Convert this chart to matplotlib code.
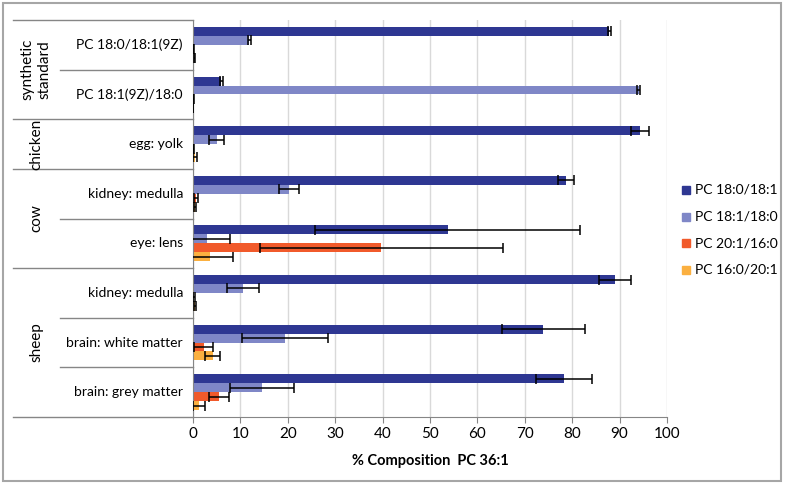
import matplotlib.pyplot as plt
from matplotlib.patches import Rectangle
import numpy as np

plt.rcParams['font.family'] = ['Lato', 'DejaVu Sans']

# samples top to bottom
tissues = ['PC 18:0/18:1(9Z)', 'PC 18:1(9Z)/18:0', 'egg: yolk', 'kidney: medulla',
           'eye: lens', 'kidney: medulla', 'brain: white matter', 'brain: grey matter']
species = [('synthetic\nstandard', 0, 2), ('chicken', 2, 3), ('cow', 3, 5), ('sheep', 5, 8)]

series = ['PC 18:0/18:1', 'PC 18:1/18:0', 'PC 20:1/16:0', 'PC 16:0/20:1']
colors = ['#2e3792', '#7f87c7', '#f15a2b', '#fbb040']

pc180_181 = [87.8, 6.0, 94.2, 78.6, 53.7, 89.0, 73.9, 78.3]
pc180_181_err = [0.3, 0.3, 1.9, 1.7, 28.0, 3.4, 8.7, 5.9]
pc181_180 = [11.9, 94.0, 5.0, 20.3, 3.0, 10.6, 19.4, 14.6]
pc181_180_err = [0.3, 0.3, 1.6, 2.1, 4.9, 3.4, 9.1, 6.8]
pc201_160 = [0.1, 0.1, 0.2, 0.6, 39.7, 0.3, 2.3, 5.5]
pc201_160_err = [0.1, 0.1, 0.1, 0.4, 25.6, 0.2, 2.0, 2.1]
pc160_201 = [0.3, 0.0, 0.5, 0.4, 3.6, 0.5, 4.2, 1.3]
pc160_201_err = [0.1, 0.1, 0.4, 0.2, 4.8, 0.2, 1.6, 1.2]

values = [pc180_181, pc181_180, pc201_160, pc160_201]
errors = [pc180_181_err, pc181_180_err, pc201_160_err, pc160_201_err]

fig = plt.figure(figsize=(7.85, 4.84), dpi=100)
ax = fig.add_axes([193/785, 1-417/484, 474/785, 397/484])

y = np.arange(len(tissues)) + 0.5
h = 0.18
offsets = [-0.27, -0.09, 0.09, 0.27]
for vals, errs, c, lab, off in zip(values, errors, colors, series, offsets):
    ax.barh(y + off, vals, height=h, color=c, label=lab, zorder=2)
    ax.errorbar(vals, y + off, xerr=errs, fmt='none', ecolor='black',
                elinewidth=1.1, capsize=3.5, capthick=1.1, zorder=3)

ax.set_xlim(0, 100)
ax.set_ylim(8, 0)
ax.set_xticks(range(0, 101, 10))
ax.set_yticks([])
ax.grid(axis='x', color='#d9d9d9', linewidth=1, zorder=0)
for s in ['top', 'right']:
    ax.spines[s].set_visible(False)
ax.spines['left'].set_color('#868686')
ax.spines['bottom'].set_color('#868686')
ax.tick_params(axis='x', colors='#868686', length=4, labelsize=11, labelcolor='black')
ax.set_xlabel('% Composition  PC 36:1', fontsize=10.5, fontweight='bold', labelpad=9)

# table on the left
tr = ax.get_yaxis_transform()
x_outer = (13 - 193) / 474
x_inner = (60 - 193) / 474
for b in range(9):
    x0 = x_outer if b in (0, 2, 3, 5, 8) else x_inner
    ax.plot([x0, 0], [b, b], transform=tr, color='#868686', lw=1, clip_on=False)
for i, t in enumerate(tissues):
    ax.text((183 - 193) / 474, i + 0.5, t, transform=tr, ha='right', va='center', fontsize=10)
for name, a, b in species:
    ax.text((36 - 193) / 474, (a + b) / 2, name, transform=tr, ha='center', va='center',
            rotation=90, fontsize=11, linespacing=1.2)

# legend drawn by hand
for k, (lab, c) in enumerate(zip(series, colors)):
    yc = 1 - (190 + k * 26.5) / 484
    fig.add_artist(Rectangle((682 / 785, yc - 4 / 484), 8 / 785, 8 / 484,
                             transform=fig.transFigure, color=c))
    fig.text(695 / 785, yc, lab, ha='left', va='center', fontsize=10)

fig.add_artist(Rectangle((3/785, 3/484), 778/785, 478/484, transform=fig.transFigure,
                         fill=False, edgecolor='#a6a6a6', linewidth=1.5))

plt.savefig('out.png', dpi=100)
